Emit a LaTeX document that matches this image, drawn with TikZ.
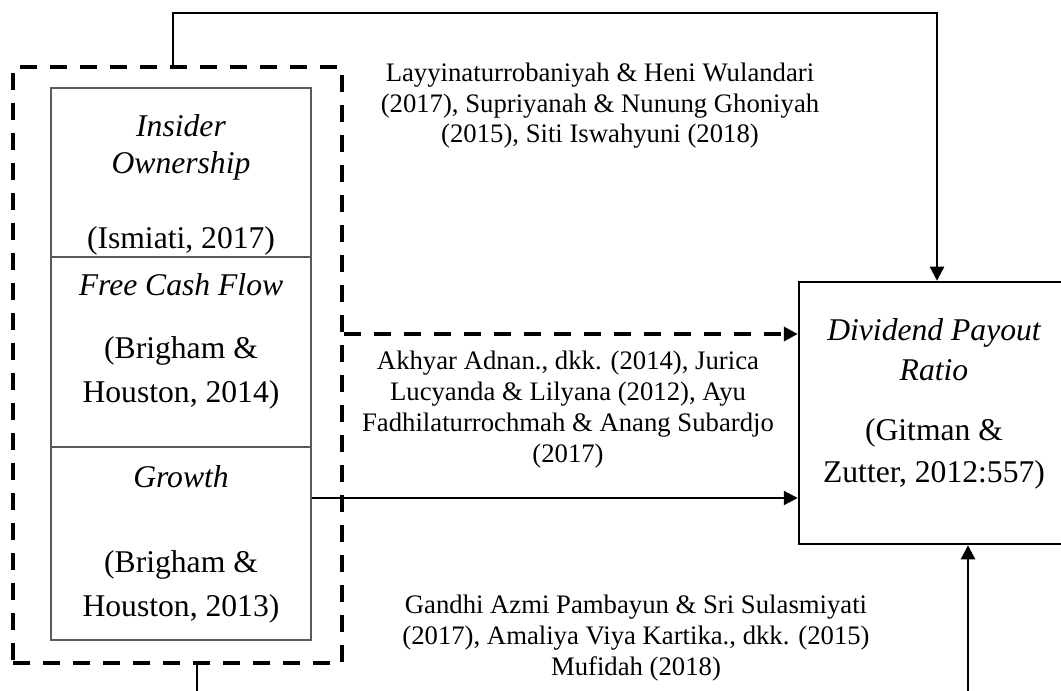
\documentclass[tikz,border=0pt]{standalone}
\usepackage{fontspec}
\setmainfont{Liberation Serif}
\usetikzlibrary{arrows.meta,positioning,calc}
\definecolor{garis}{RGB}{90,90,90}

\begin{document}
\begin{tikzpicture}[x=0.2mm,y=-0.2mm,
variabel/.style={draw=garis,line width=0.25mm,minimum width=52mm,inner sep=0pt},
terikat/.style={draw,line width=0.5mm,minimum width=54mm,minimum height=52.4mm,inner sep=0pt},
grup/.style={draw,line width=0.95mm,dash pattern=on 3.4mm off 2.6mm,minimum width=65.8mm,minimum height=119.2mm,inner sep=0pt},
judul/.style={font=\fontsize{18}{21.5}\selectfont\itshape,align=center,anchor=base,inner sep=0pt},
sumber/.style={font=\fontsize{18}{25}\selectfont,align=center,anchor=base,inner sep=0pt},
ket/.style={font=\fontsize{15.2}{17.6}\selectfont,align=center,anchor=base,inner sep=0pt},
arr/.style={-{Triangle[length=2.8mm,width=2.8mm]},line width=0.45mm},
arrdash/.style={arr,line width=0.9mm,dash pattern=on 3.4mm off 2.6mm}
]
\useasboundingbox (0,0) rectangle (1061,691);

% variabel bebas
\node[grup] (grp) at (177.5,365) {};
\node[variabel,minimum height=33.8mm] (ins) at (181,172.5) {};
\node[variabel,minimum height=38mm] (fcf) at (181,352) {};
\node[variabel,minimum height=38.6mm] (grw) at (181,543.5) {};
\node[judul] at (181,174) {Insider\\Ownership};
\node[sumber] at (181,248) {(Ismiati, 2017)};
\node[judul] at (181,295) {Free Cash Flow};
\node[sumber] at (181,402) {(Brigham \&\\Houston, 2014)};
\node[judul] at (181,487) {Growth};
\node[sumber] at (181,616) {(Brigham \&\\Houston, 2013)};

% variabel terikat
\node[terikat] (dpr) at (934,413) {};
\node[judul,font=\fontsize{18}{22.5}\selectfont\itshape] at (934,380) {Dividend Payout\\Ratio};
\node[sumber,font=\fontsize{18}{23.5}\selectfont] at (934,482) {(Gitman \&\\Zutter, 2012:557)};

% keterangan penelitian
\node[ket] (ket1) at (600,143) {Layyinaturrobaniyah \& Heni Wulandari\\(2017), Supriyanah \& Nunung Ghoniyah\\(2015), Siti Iswahyuni (2018)};
\node[ket] (ket2) at (568,462) {Akhyar Adnan., dkk. (2014), Jurica\\Lucyanda \& Lilyana (2012), Ayu\\Fadhilaturrochmah \& Anang Subardjo\\(2017)};
\node[ket] (ket3) at (636,675) {Gandhi Azmi Pambayun \& Sri Sulasmiyati\\(2017), Amaliya Viya Kartika., dkk. (2015)\\Mufidah (2018)};

% hubungan
\coordinate (t1) at (173,13);
\coordinate (t2) at (937,13);
\coordinate (d1) at (0,334);
\coordinate (g1) at (0,498);
\coordinate (b1) at (197,691);
\coordinate (b2) at (968,691);
\draw[arr] (grp.north -| t1) -- (t1) -- (t2) -- (dpr.north -| t2);
\draw[arrdash] (grp.east |- d1) -- (dpr.west |- d1);
\draw[arr] (grw.east |- g1) -- (dpr.west |- g1);
\draw[line width=0.45mm] (grp.south -| b1) -- (b1);
\draw[arr] (b2) -- (dpr.south -| b2);
\end{tikzpicture}
\end{document}
